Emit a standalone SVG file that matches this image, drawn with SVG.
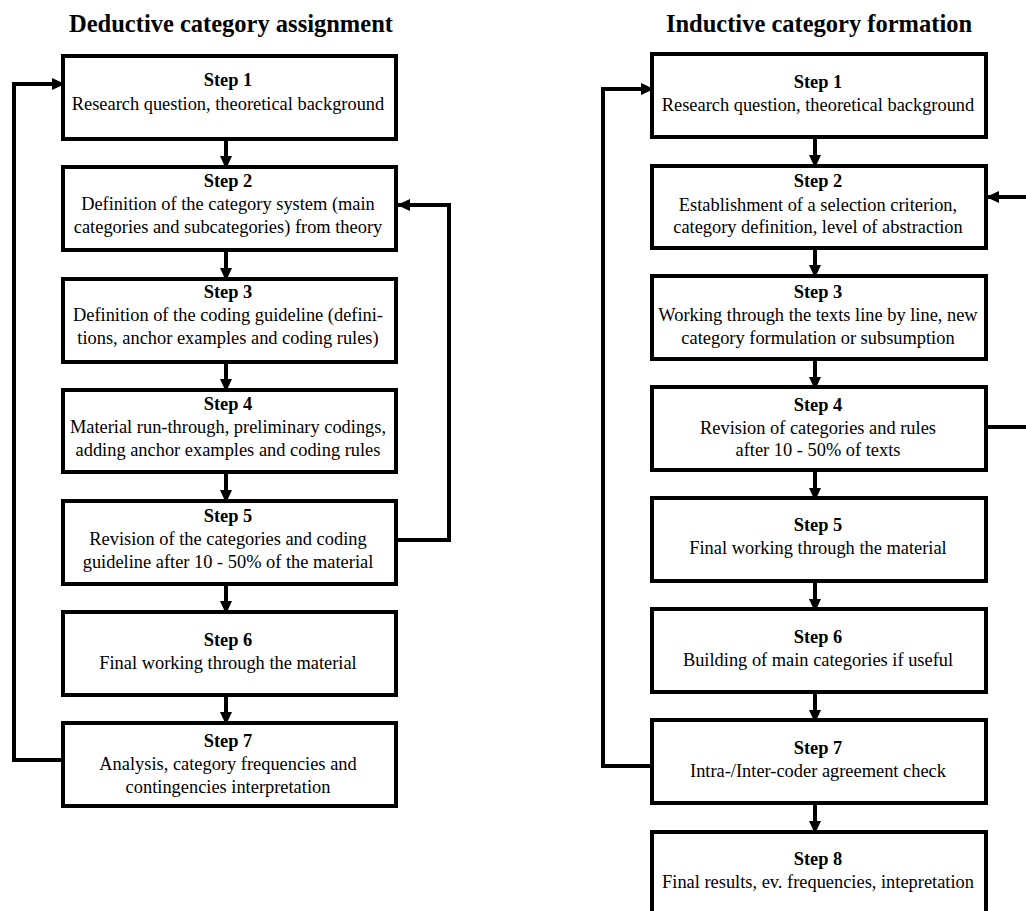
<svg xmlns="http://www.w3.org/2000/svg" width="1026" height="911" viewBox="0 0 1026 911">
<style>
.box{fill:#fff;stroke:#000;stroke-width:4}
.t{font-family:"Liberation Serif","Times New Roman",serif;font-size:18.4px;fill:#000;text-anchor:middle}
.b{font-weight:bold}
.title{font-family:"Liberation Serif","Times New Roman",serif;font-size:24.5px;font-weight:bold;fill:#000;text-anchor:middle}
.c{fill:none;stroke:#000;stroke-width:4;marker-end:url(#ah)}
.cn{fill:none;stroke:#000;stroke-width:4}
</style>
<defs>
<marker id="ah" markerUnits="userSpaceOnUse" viewBox="0 0 13 13" refX="12" refY="6.5" markerWidth="13" markerHeight="13" orient="auto">
<path d="M0,0.5 L13,6.5 L0,12.5 z" fill="#000"/>
</marker>
</defs>
<rect width="1026" height="911" fill="#fff"/>
<text class="title" x="231" y="32">Deductive category assignment</text>
<text class="title" x="819" y="32">Inductive category formation</text>

<g id="connectors">
<line class="c" x1="226" y1="139" x2="226" y2="168"/>
<line class="c" x1="226" y1="250" x2="226" y2="280"/>
<line class="c" x1="226" y1="362" x2="226" y2="391"/>
<line class="c" x1="226" y1="472" x2="226" y2="502"/>
<line class="c" x1="226" y1="584" x2="226" y2="613"/>
<line class="c" x1="226" y1="695" x2="226" y2="724"/>
<polyline class="c" points="63,760 14,760 14,84 64,84"/>
<polyline class="c" points="396,540 449,540 449,205 398,205"/>
<line class="c" x1="815" y1="137" x2="815" y2="167"/>
<line class="c" x1="815" y1="248" x2="815" y2="277"/>
<line class="c" x1="815" y1="359" x2="815" y2="389"/>
<line class="c" x1="815" y1="470" x2="815" y2="500"/>
<line class="c" x1="815" y1="581" x2="815" y2="611"/>
<line class="c" x1="815" y1="692" x2="815" y2="722"/>
<line class="c" x1="815" y1="803" x2="815" y2="833"/>
<polyline class="c" points="652,766 603,766 603,89 653,89"/>
<line class="c" x1="1030" y1="197" x2="987" y2="197"/>
<line class="cn" x1="986" y1="427" x2="1030" y2="427"/>
</g>

<g id="d1"><rect class="box" x="63" y="56" width="333" height="83"/>
<text class="t b" x="228" y="86">Step 1</text>
<text class="t" x="228" y="110">Research question, theoretical background</text></g>
<g id="d2"><rect class="box" x="63" y="167" width="333" height="83"/>
<text class="t b" x="228" y="187">Step 2</text>
<text class="t" x="228" y="210">Definition of the category system (main</text>
<text class="t" x="228" y="233">categories and subcategories) from theory</text></g>
<g id="d3"><rect class="box" x="63" y="279" width="333" height="83"/>
<text class="t b" x="228" y="298">Step 3</text>
<text class="t" x="228" y="321">Definition of the coding guideline (defini-</text>
<text class="t" x="228" y="344">tions, anchor examples and coding rules)</text></g>
<g id="d4"><rect class="box" x="63" y="390" width="333" height="82"/>
<text class="t b" x="228" y="410">Step 4</text>
<text class="t" x="228" y="433">Material run-through, preliminary codings,</text>
<text class="t" x="228" y="456">adding anchor examples and coding rules</text></g>
<g id="d5"><rect class="box" x="63" y="501" width="333" height="83"/>
<text class="t b" x="228" y="522">Step 5</text>
<text class="t" x="228" y="545">Revision of the categories and coding</text>
<text class="t" x="228" y="568">guideline after 10 - 50% of the material</text></g>
<g id="d6"><rect class="box" x="63" y="612" width="333" height="83"/>
<text class="t b" x="228" y="646">Step 6</text>
<text class="t" x="228" y="669">Final working through the material</text></g>
<g id="d7"><rect class="box" x="63" y="723" width="333" height="83"/>
<text class="t b" x="228" y="747">Step 7</text>
<text class="t" x="228" y="770">Analysis, category frequencies and</text>
<text class="t" x="228" y="793">contingencies interpretation</text></g>

<g id="i1"><rect class="box" x="652" y="54" width="334" height="83"/>
<text class="t b" x="818" y="88">Step 1</text>
<text class="t" x="818" y="111">Research question, theoretical background</text></g>
<g id="i2"><rect class="box" x="652" y="166" width="334" height="82"/>
<text class="t b" x="818" y="187">Step 2</text>
<text class="t" x="818" y="211">Establishment of a selection criterion,</text>
<text class="t" x="818" y="233">category definition, level of abstraction</text></g>
<g id="i3"><rect class="box" x="652" y="276" width="334" height="83"/>
<text class="t b" x="818" y="298">Step 3</text>
<text class="t" x="818" y="321">Working through the texts line by line, new</text>
<text class="t" x="818" y="344">category formulation or subsumption</text></g>
<g id="i4"><rect class="box" x="652" y="387" width="334" height="83"/>
<text class="t b" x="818" y="411">Step 4</text>
<text class="t" x="818" y="434">Revision of categories and rules</text>
<text class="t" x="818" y="456">after 10 - 50% of texts</text></g>
<g id="i5"><rect class="box" x="652" y="498" width="334" height="83"/>
<text class="t b" x="818" y="531">Step 5</text>
<text class="t" x="818" y="554">Final working through the material</text></g>
<g id="i6"><rect class="box" x="652" y="609" width="334" height="83"/>
<text class="t b" x="818" y="643">Step 6</text>
<text class="t" x="818" y="666">Building of main categories if useful</text></g>
<g id="i7"><rect class="box" x="652" y="720" width="334" height="83"/>
<text class="t b" x="818" y="754">Step 7</text>
<text class="t" x="818" y="777">Intra-/Inter-coder agreement check</text></g>
<g id="i8"><rect class="box" x="652" y="832" width="334" height="83"/>
<text class="t b" x="818" y="865">Step 8</text>
<text class="t" x="818" y="888">Final results, ev. frequencies, intepretation</text></g>
</svg>
